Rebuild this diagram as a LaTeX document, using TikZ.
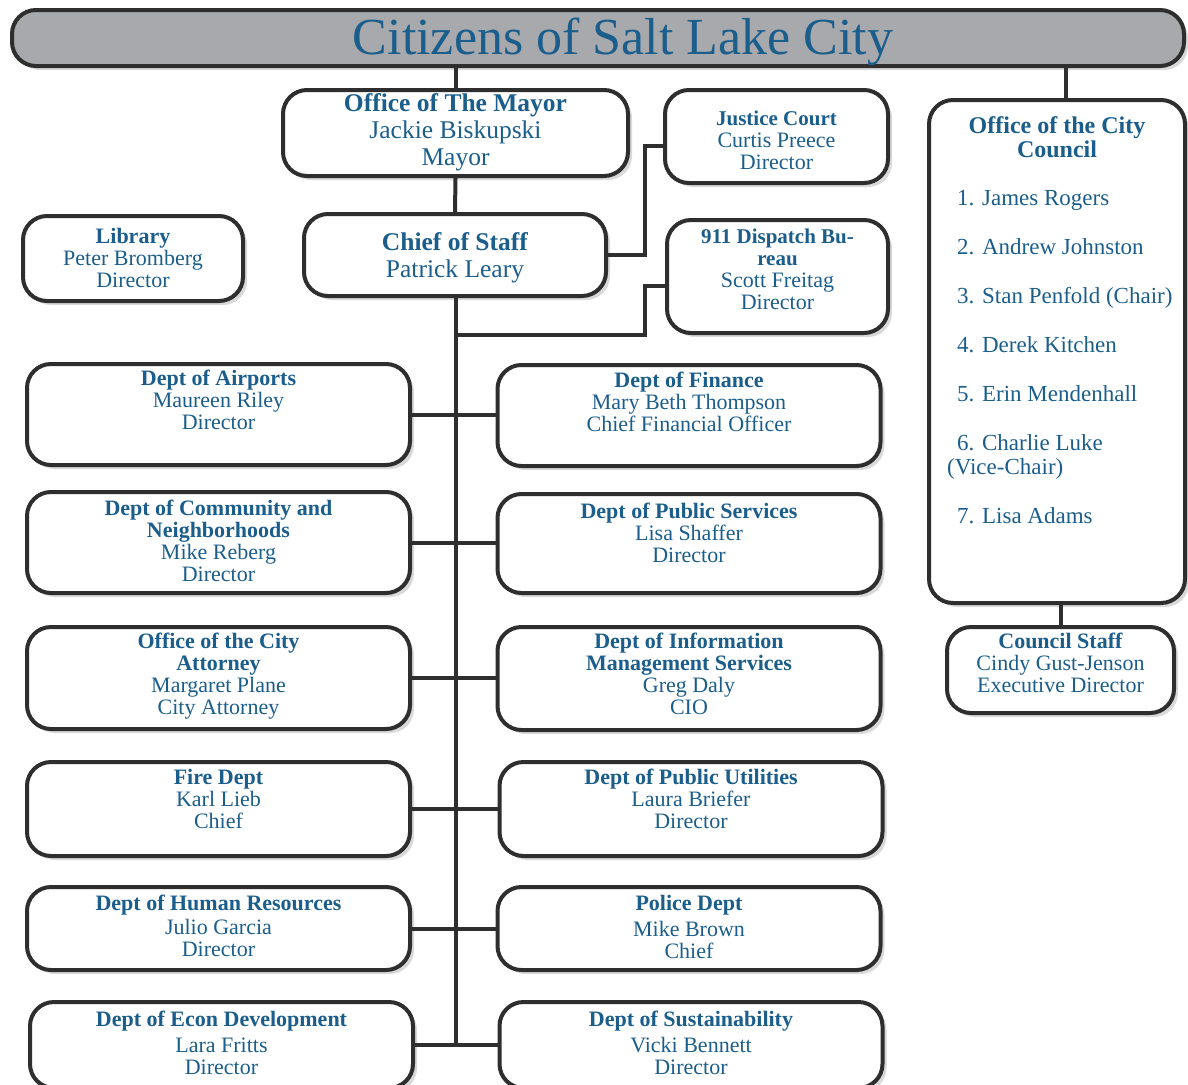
\documentclass[tikz,border=0pt]{standalone}
\usepackage{fontspec}
\setmainfont{Liberation Serif}
\usepackage{xcolor}
\usepackage{tikz}
\usetikzlibrary{shapes,positioning,calc,shadows}

\definecolor{sltblue}{HTML}{1B5E8C}
\definecolor{boxline}{HTML}{2E2E2E}
\definecolor{bannergray}{HTML}{A7A9AC}

\begin{document}
\begin{tikzpicture}[x=1pt,y=-1pt,
    box/.style={draw=boxline, line width=4pt, rounded corners=24pt, fill=white,
        drop shadow={shadow xshift=4pt, shadow yshift=-4pt, opacity=0.3}},
    dept/.style={box, minimum width=383pt},
    txt/.style={text=sltblue, align=center, inner sep=0pt, font=\fontsize{22}{22}\selectfont},
    big/.style={txt, font=\fontsize{25.5}{27}\selectfont},
    link/.style={draw=boxline, line width=4pt}]
\useasboundingbox (0,0) rectangle (1188,1084);

% Banner
\node[box, fill=bannergray, minimum width=1172pt, minimum height=56pt] (citizens) at (598,38) {};
\node[text=sltblue, anchor=base, font=\fontsize{52}{52}\selectfont] (citizensT) at (623,54) {Citizens of Salt Lake City};

% Top boxes
\node[box, minimum width=345pt, minimum height=86pt] (mayor) at (455.5,133) {};
\node[big, below=5pt of mayor.north] (mayorT) {\textbf{Office of The Mayor}\\Jackie Biskupski\\Mayor};

\node[box, minimum width=302pt, minimum height=82pt] (chief) at (455,255) {};
\node[big, below=20pt of chief.north] (chiefT) {\textbf{Chief of Staff}\\Patrick Leary};

\node[box, minimum width=220pt, minimum height=85pt] (library) at (133,258.5) {};
\node[txt, below=14pt of library.north] (libraryT) {\textbf{Library}\\Peter Bromberg\\Director};

\node[box, minimum width=223pt, minimum height=93pt] (justice) at (776.5,136.5) {};
\node[txt, below=23pt of justice.north] (justiceT) {\textbf{\fontsize{21}{22}\selectfont Justice Court}\\Curtis Preece\\Director};

\node[box, minimum width=221pt, minimum height=113pt] (dispatch) at (777.5,276.5) {};
\node[txt, below=11pt of dispatch.north] (dispatchT) {\textbf{\fontsize{21}{22}\selectfont 911 Dispatch Bu-}\\\textbf{\fontsize{21}{22}\selectfont reau}\\Scott Freitag\\Director};

% City council
\node[box, minimum width=256pt, minimum height=503pt] (council) at (1057,351.5) {};
\node[txt, font=\fontsize{24}{24}\selectfont\bfseries, below=18pt of council.north] (councilT) {Office of the City\\Council};
\node[text=sltblue, anchor=north west, inner sep=0pt, align=left, font=\fontsize{23}{24.5}\selectfont] (members) at (957,190) {1. James Rogers\\[24.5pt]
    2. Andrew Johnston\\[24.5pt]
    3. Stan Penfold (Chair)\\[24.5pt]
    4. Derek Kitchen\\[24.5pt]
    5. Erin Mendenhall\\[24.5pt]
    6. Charlie Luke\\
    \hspace*{-10pt}(Vice-Chair)\\[24.5pt]
    7. Lisa Adams};

\node[box, minimum width=227pt, minimum height=86pt] (staff) at (1060.5,670) {};
\node[txt, below=8pt of staff.north] (staffT) {\textbf{Council Staff}\\Cindy Gust-Jenson\\Executive Director};

% Departments, left column
\node[dept, minimum height=101pt] (airports) at (218.5,414.5) {};
\node[txt, below=8pt of airports.north] (airportsT) {\textbf{Dept of Airports}\\Maureen Riley\\Director};

\node[dept, minimum height=101pt] (community) at (218.5,542.5) {};
\node[txt, below=10pt of community.north] (communityT) {\textbf{Dept of Community and}\\\textbf{Neighborhoods}\\Mike Reberg\\Director};

\node[dept, minimum height=102pt] (attorney) at (218.5,678) {};
\node[txt, below=8pt of attorney.north] (attorneyT) {\textbf{Office of the City}\\\textbf{Attorney}\\Margaret Plane\\City Attorney};

\node[dept, minimum height=94pt] (fire) at (218.5,809) {};
\node[txt, below=9pt of fire.north] (fireT) {\textbf{Fire Dept}\\Karl Lieb\\Chief};

\node[dept, minimum height=83pt] (hr) at (218.5,928.5) {};
\node[txt, below=10pt of hr.north] (hrT) {\textbf{Dept of Human Resources}\\[2pt]Julio Garcia\\Director};

\node[dept, minimum height=86pt] (econ) at (221.5,1045) {};
\node[txt, below=11pt of econ.north] (econT) {\textbf{Dept of Econ Development}\\[4pt]Lara Fritts\\Director};

% Departments, right column
\node[dept, minimum height=101pt] (finance) at (689,415.5) {};
\node[txt, below=9pt of finance.north] (financeT) {\textbf{Dept of Finance}\\Mary Beth Thompson\\Chief Financial Officer};

\node[dept, minimum height=99pt] (pubserv) at (689,543.5) {};
\node[txt, below=11pt of pubserv.north] (pubservT) {\textbf{Dept of Public Services}\\Lisa Shaffer\\Director};

\node[dept, minimum height=103pt] (ims) at (689,678.5) {};
\node[txt, below=8pt of ims.north] (imsT) {\textbf{Dept of Information}\\\textbf{Management Services}\\Greg Daly\\CIO};

\node[dept, minimum height=94pt] (utilities) at (691,809) {};
\node[txt, below=9pt of utilities.north] (utilitiesT) {\textbf{Dept of Public Utilities}\\Laura Briefer\\Director};

\node[dept, minimum height=83pt] (police) at (689,928.5) {};
\node[txt, below=10pt of police.north] (policeT) {\textbf{Police Dept}\\[4pt]Mike Brown\\Chief};

\node[dept, minimum height=86pt] (sustain) at (691,1045) {};
\node[txt, below=11pt of sustain.north] (sustainT) {\textbf{Dept of Sustainability}\\[4pt]Vicki Bennett\\Director};

% Connectors
\coordinate (trunk) at (456,0);
\coordinate (elbow) at (645,335);
\draw[link] (mayor.north |- citizens.south) -- (mayor.north);
\draw[link] (mayor.south) -- (chief.north);
\draw[link] (chief.south -| trunk) -- (econ.east -| trunk);
\draw[link] (chief.east) -- (chief.east -| elbow) |- ([yshift=-9pt]justice.west);
\draw[link] (elbow -| trunk) -- (elbow) |- ([yshift=-9pt]dispatch.west);
\draw[link] ([xshift=9pt]council.north |- citizens.south) -- ([xshift=9pt]council.north);
\draw[link] (staff.north |- council.south) -- (staff.north);
\draw[link] (airports.east) -- (airports.east -| finance.west);
\draw[link] (community.east) -- (community.east -| pubserv.west);
\draw[link] (attorney.east) -- (attorney.east -| ims.west);
\draw[link] (fire.east) -- (fire.east -| utilities.west);
\draw[link] (hr.east) -- (hr.east -| police.west);
\draw[link] (econ.east) -- (econ.east -| sustain.west);

\end{tikzpicture}
\end{document}
